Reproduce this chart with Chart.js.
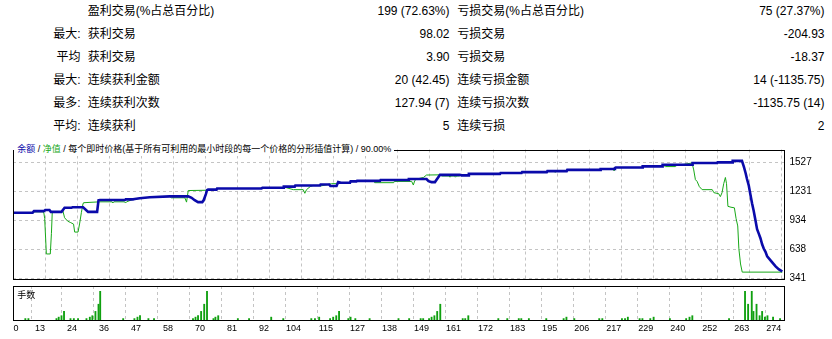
<!DOCTYPE html>
<html><head><meta charset="utf-8">
<script src="https://cdn.jsdelivr.net/npm/chart.js@4/dist/chart.umd.min.js"></script>
<style>
html,body{margin:0;padding:0;background:#fff;}
body{width:832px;height:339px;position:relative;overflow:hidden;font-family:"Liberation Sans","Noto Sans CJK SC",sans-serif;color:#000;}
.t{position:absolute;font-size:12px;line-height:23px;height:23px;white-space:nowrap;}
.r{text-align:right;}
canvas{position:absolute;left:0;}
#title{position:absolute;left:14px;top:142px;height:14px;line-height:14px;font-size:9px;padding:0 3px 0 3.3px;background:#fff;white-space:nowrap;color:#000;}
#title .b{color:#0a0aaa;} #title .g{color:#18a818;}
#vlab{position:absolute;left:17.3px;top:289px;font-size:9px;line-height:12px;white-space:nowrap;}
</style></head>
<body>
<div id="stats"></div>
<canvas id="c1" width="832" height="152" style="top:138px"></canvas>
<canvas id="c2" width="832" height="57" style="top:282px"></canvas>
<div id="title"><span class="b">余额</span> / <span class="g">净值</span> / 每个即时价格(基于所有可利用的最小时段的每一个价格的分形插值计算) / 90.00%</div>
<div id="vlab">手数</div>
<script>
// ---------- statistics table ----------
const statPrefix = ["", "最大:", "平均", "最大:", "最多:", "平均:"];
const winLabels  = ["盈利交易(%占总百分比)", "获利交易", "获利交易", "连续获利金额", "连续获利次数", "连续获利"];
const winValues  = ["199 (72.63%)", "98.02", "3.90", "20 (42.45)", "127.94 (7)", "5"];
const lossLabels = ["亏损交易(%占总百分比)", "亏损交易", "亏损交易", "连续亏损金额", "连续亏损次数", "连续亏损"];
const lossValues = ["75 (27.37%)", "-204.93", "-18.37", "14 (-1135.75)", "-1135.75 (14)", "2"];

// ---------- balance / equity curves (trade number, account value) ----------
const balanceTrade = [0,7,7.5,11,11.5,13,13.5,17.3,18.4,20.8,21.2,25,26.8,30,30.5,31,39.9,40.2,42.8,43.4,45.2,48.8,55.9,62.5,63.7,64.8,66,67.5,68,68.8,69.2,69.6,72.6,72.8,88.6,89,96.4,96.6,100.5,100.7,109.5,109.7,112.8,113.2,115.4,116,117,120.2,120.4,122.5,122.7,130.9,131.1,141,141.2,147.5,148.2,149.3,150.5,152.3,159.4,160,162.4,162.6,173.7,173.9,181.4,181.6,190.4,190.6,197.5,197.7,209.4,209.6,214.4,214.7,215,224.4,224.6,231.5,231.7,242.2,242.4,251.1,251.3,256.5,256.7,260,260.7,261.3,261.8,262.4,263,263.6,264.2,264.8,265.4,266,266.6,267.2,267.8,268.4,269,270.2,270.8,272,273.2,274.4];
const balanceValue = [1011,1011,1027,1027,1039,1039,1020,1020,1061,1061,1067,1067,1020,1020,1138,1141,1141,1147,1147,1150,1159,1168,1178,1178,1163,1138,1119,1119,1138,1200,1240,1246,1246,1258,1258,1265,1265,1277,1277,1289,1289,1298,1298,1283,1283,1323,1317,1317,1330,1330,1335,1335,1344,1344,1354,1354,1332,1323,1323,1397,1397,1391,1391,1407,1407,1416,1416,1425,1425,1435,1435,1447,1447,1456,1456,1466,1471,1471,1483,1483,1499,1499,1518,1518,1524,1524,1539,1539,1478,1416,1354,1293,1200,1107,1029,937,844,798,751,690,644,612,566,526,505,464,434,412];

const equityTrade = [0,7,7.2,10.7,11,11.3,11.9,13.3,13.7,14,17.3,17.8,18.4,19.5,20.6,21.6,22,23.2,23.8,24.4,25,25.2,31,35.3,35.6,36,39.8,40.1,40.5,42.8,43.4,45.2,48.8,55.9,56.5,61.3,61.9,62.5,69.3,69.6,72.6,72.8,88.6,89,96.4,97,98.1,100,103.5,104.1,104.7,106,107.1,109.5,109.7,113.6,115.4,115.8,117,120.2,120.4,122.5,122.7,128.7,129,135.8,136,142.2,142.8,143.3,144,146.4,147.5,152.3,153,155.6,155.9,156.3,157.5,157.8,158.2,159.2,159.4,162.4,162.6,173.7,173.9,181.4,181.6,190.4,190.6,193.2,193.4,193.7,197.5,197.7,209.4,209.6,214,214.4,215,224.4,224.6,231.5,231.7,232.7,236.3,236.6,242.2,242.8,243.4,244,244.8,245.8,249.4,250,251.7,252.3,252.9,253.5,254.1,254.5,255,256.1,257.3,257.9,258.5,258.9,259.5,260.1,274.4];
const equityValue = [1011,1011,1020,1020,1010,953,591,591,798,1015,1020,1029,960,925,910,895,814,814,906,1015,1107,1113,1122,1122,1110,1122,1122,1110,1122,1147,1150,1159,1168,1178,1163,1163,1119,1237,1240,1246,1246,1258,1258,1265,1265,1270,1261,1246,1246,1209,1246,1277,1289,1289,1283,1307,1307,1323,1317,1317,1330,1330,1335,1335,1317,1317,1330,1330,1293,1339,1354,1370,1395,1397,1385,1385,1373,1385,1385,1373,1385,1385,1400,1400,1407,1407,1416,1416,1425,1425,1435,1435,1422,1435,1435,1447,1447,1456,1456,1437,1471,1471,1483,1483,1499,1481,1481,1490,1518,1447,1348,1330,1277,1246,1246,1215,1205,1175,1215,1307,1370,1307,1076,1067,1061,953,876,644,489,406,406];

// ---------- lots per trade ----------
const volTrade = [4.4,5.5,15.5,16.3,17.3,18.2,20.5,21.7,23.2,26.2,27.4,28.3,29.4,30.5,31.1,39.3,43.3,44.4,45.3,48.3,50.3,64.2,65.1,66,67.1,68.2,69.2,71.5,72.2,73.2,80.2,84.2,92.1,96.4,106.4,107.7,109.2,113.1,114.2,115.3,116.3,119.6,120.4,122.1,127.2,137.5,141.3,145.4,146.3,148.4,149.3,150.3,151.3,152.4,160.4,161.3,162.4,173.1,176.3,180.4,181.3,184,190.2,196.4,197.4,200.2,209.1,210.2,217.2,218.3,219.3,223.5,224.5,227.3,228.5,234.3,240.1,241.3,242.3,255.4,261.1,262.2,263.5,264.1,265.2,266.3,267.2,268.2,269.1,271.1,273.6];
const volLots  = [0.01,0.01,0.01,0.02,0.03,0.06,0.01,0.01,0.01,0.01,0.02,0.03,0.06,0.11,0.2,0.01,0.01,0.02,0.03,0.01,0.01,0.01,0.02,0.03,0.06,0.11,0.2,0.01,0.02,0.03,0.01,0.01,0.02,0.01,0.01,0.01,0.02,0.01,0.02,0.03,0.06,0.01,0.02,0.01,0.01,0.01,0.01,0.01,0.01,0.01,0.02,0.03,0.06,0.11,0.01,0.01,0.03,0.01,0.01,0.01,0.01,0.01,0.01,0.01,0.02,0.01,0.01,0.01,0.01,0.01,0.02,0.01,0.01,0.01,0.02,0.01,0.01,0.02,0.03,0.01,0.2,0.11,0.2,0.06,0.11,0.03,0.06,0.02,0.03,0.02,0.01];

// ---------- axis labels ----------
const xTickLabels = ["0","13","24","36","47","58","70","81","92","104","115","127","138","149","161","172","183","195","206","217","229","240","252","263","274"];
const yTickValues = [341, 638, 934, 1231, 1527];
const yTickLabels = ["341","638","934","1231","1527"];

// ---------- build stats text ----------
const st = document.getElementById('stats');
function addText(txt, css, cls){ const d=document.createElement('div'); d.className='t '+(cls||''); d.textContent=txt; d.style.cssText=css; st.appendChild(d); }
for (let i=0;i<6;i++){
  const top = i*23;
  addText(statPrefix[i], `top:${top}px;left:0;width:80.5px;`, 'r');
  addText(winLabels[i], `top:${top}px;left:87.7px;`);
  addText(winValues[i], `top:${top}px;left:250px;width:199.5px;`, 'r');
  addText(lossLabels[i], `top:${top}px;left:457.3px;`);
  addText(lossValues[i], `top:${top}px;left:620px;width:204.5px;`, 'r');
}

// ---------- charts ----------
const BLUE = '#0a0aaa', GREEN = '#18a818', GRID = '#c4c4c4';
const X_MIN = 0, X_MAX = 275, X_STEP = 274/24, X_FIRST = 2;
Chart.defaults.font.family = '"Liberation Sans","Noto Sans CJK SC",sans-serif';
Chart.defaults.color = '#000';

const framePlugin = { id:'frame', afterDraw(chart){
  const {ctx, chartArea:a} = chart;
  ctx.save(); ctx.strokeStyle='#000'; ctx.lineWidth=1;
  ctx.strokeRect(Math.round(a.left)+0.5, Math.round(a.top)+0.5, Math.round(a.right-a.left), Math.round(a.bottom-a.top));
  ctx.restore();
}};
const xTicks = s => { s.ticks = xTickLabels.map((l,i)=>({value: i===0 ? X_FIRST : i*X_STEP})); };
const gridColor = c => c.index===0 ? 'rgba(0,0,0,0)' : GRID;

new Chart(document.getElementById('c1'), {
  type:'line',
  data:{ datasets:[
    { label:'余额', data: balanceTrade.map((t,i)=>({x:t,y:balanceValue[i]})), borderColor:BLUE, borderWidth:2.6, pointRadius:0, tension:0, order:1 },
    { label:'净值', data: equityTrade.map((t,i)=>({x:t,y:equityValue[i]})), borderColor:GREEN, borderWidth:1, pointRadius:0, tension:0, order:2 }
  ]},
  options:{
    responsive:false, animation:false, events:[],
    layout:{ padding:{ left:13, top:3, right:0, bottom:6 } },
    plugins:{ legend:{display:false}, tooltip:{enabled:false} },
    scales:{
      x:{ type:'linear', min:X_MIN, max:X_MAX, afterBuildTicks:xTicks,
          ticks:{display:false}, grid:{color:gridColor, drawTicks:false}, border:{display:false, dash:[3,3]},
          afterFit(s){ s.height=0; } },
      y:{ position:'right', min:341, max:1655,
          afterBuildTicks(s){ s.ticks = yTickValues.map(v=>({value:v})); },
          ticks:{ padding:5.5, font:{size:10}, callback:(v,i)=>yTickLabels[i] },
          grid:{color:GRID, drawTicks:false}, border:{display:false, dash:[3,3]},
          afterFit(s){ s.width=48; } }
    }
  },
  plugins:[framePlugin]
});

new Chart(document.getElementById('c2'), {
  type:'bar',
  data:{ datasets:[{ label:'手数', data: volTrade.map((t,i)=>({x:t,y:volLots[i]})), backgroundColor:'#10a010', barThickness:1.2, grouped:false }]},
  options:{
    responsive:false, animation:false, events:[],
    layout:{ padding:{ left:13, top:4, right:48, bottom:0 } },
    plugins:{ legend:{display:false}, tooltip:{enabled:false} },
    scales:{
      x:{ type:'linear', min:X_MIN, max:X_MAX, offset:false, afterBuildTicks:xTicks,
          ticks:{ align:'end', padding:3, font:{size:9}, maxRotation:0, autoSkip:false, callback:(v,i)=>xTickLabels[i] },
          grid:{color:gridColor, drawTicks:false}, border:{display:false, dash:[3,3]},
          afterFit(s){ s.height=19; } },
      y:{ display:false, min:0, max:0.237 }
    }
  },
  plugins:[framePlugin]
});
</script>
</body></html>
